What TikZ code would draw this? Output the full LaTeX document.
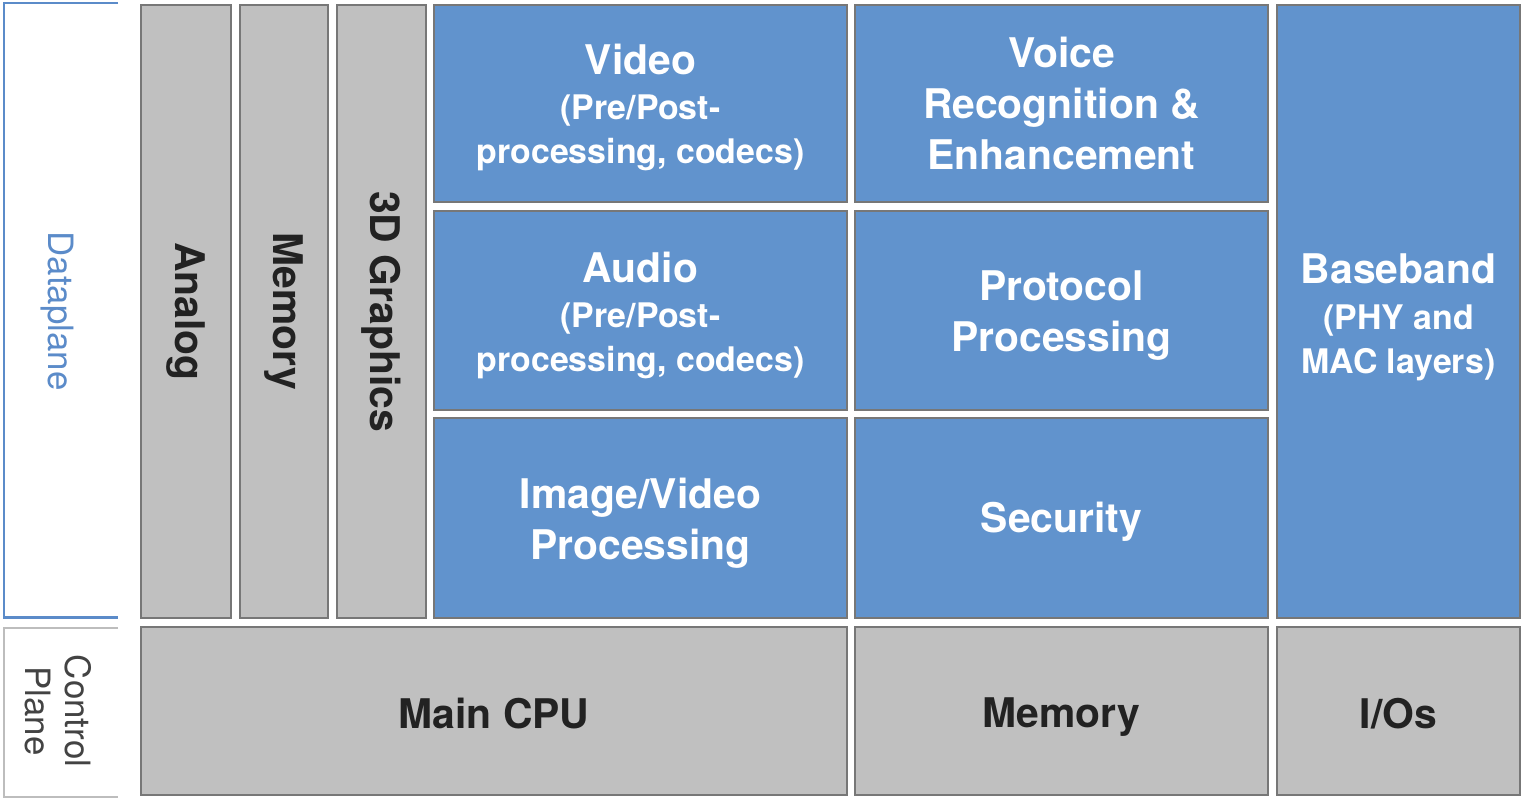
\documentclass[tikz,border=0pt]{standalone}
\usepackage{fontspec}
\setmainfont{TeX Gyre Heros}
\definecolor{blk}{HTML}{6193CD}
\definecolor{gry}{HTML}{C0C0C0}
\definecolor{edg}{HTML}{777777}
\definecolor{dtxt}{HTML}{222222}
\definecolor{dpline}{HTML}{5B8BC9}
\definecolor{cpline}{HTML}{BDBDBD}
\newcommand\ttl{\fontsize{41}{48}\selectfont}
\newcommand\subt{\fontsize{34}{48}\selectfont}
% \mkblk{name}{x1}{y1}{x2}{y2}{style}{text shift}{text}
\newcommand\mkblk[8]{%
  \pgfmathsetmacro\bw{#4-#2}\pgfmathsetmacro\bh{#5-#3}%
  \pgfmathsetmacro\bx{(#2+#4)/2}\pgfmathsetmacro\by{(#3+#5)/2}%
  \pgfmathsetmacro\ty{(#3+#5)/2+#7}%
  \node[#6, minimum width=\bw bp, minimum height=\bh bp] (#1) at (\bx,\by) {};
  \node[#6txt] (#1t) at (\bx,\ty) {#8};}
\begin{document}
\begin{tikzpicture}[x=1bp,y=-1bp,
  base/.style={draw=edg, line width=2.5bp, inner sep=0pt},
  bluebox/.style={base, fill=blk},
  graybox/.style={base, fill=gry},
  basetxt/.style={inner sep=0pt, align=center, font=\bfseries\ttl},
  blueboxtxt/.style={basetxt, text=white},
  grayboxtxt/.style={basetxt, text=dtxt}]
\useasboundingbox (0,0) rectangle (1522,800);
% brackets
\coordinate (dpa) at (118,3);
\coordinate (dpb) at (4,3);
\coordinate (dpc) at (4,617.5);
\coordinate (dpd) at (118,617.5);
\draw[dpline, line width=2.5bp] (dpa) -- (dpb) -- (dpc) -- (dpd);
\coordinate (cpa) at (118,628);
\coordinate (cpb) at (4,628);
\coordinate (cpc) at (4,797);
\coordinate (cpd) at (118,797);
\draw[cpline, line width=2.5bp] (cpa) -- (cpb) -- (cpc) -- (cpd);
\node[rotate=-90, text=dpline, font=\fontsize{35}{40}\selectfont] (dplabel) at (57,311) {Dataplane};
\node[rotate=-90, text=dtxt!85!white, font=\fontsize{35}{40}\selectfont, align=center] (cplabel) at (58,711) {Control\\Plane};
% vertical gray blocks
\node[graybox, minimum width=90bp, minimum height=613bp] (analog) at (186,311.5) {};
\node[grayboxtxt, rotate=-90] (analogt) at (analog.center) {Analog};
\node[graybox, minimum width=88bp, minimum height=613bp] (memv) at (284,311.5) {};
\node[grayboxtxt, rotate=-90] (memvt) at (memv.center) {Memory};
\node[graybox, minimum width=89bp, minimum height=613bp] (gfx) at (381.5,311.5) {};
\node[grayboxtxt, rotate=-90] (gfxt) at (gfx.center) {3D Graphics};
% blue blocks
\mkblk{video}{434}{5}{847}{202}{bluebox}{4}{{\ttl Video}\\[-3bp]{\subt (Pre/Post-}\\[-3bp]{\subt processing, codecs)}}
\mkblk{audio}{434}{211}{847}{410}{bluebox}{5}{{\ttl Audio}\\[-3bp]{\subt (Pre/Post-}\\[-3bp]{\subt processing, codecs)}}
\mkblk{imgvid}{434}{418}{847}{618}{bluebox}{5}{Image/Video\\[3bp]Processing}
\mkblk{voice}{855}{5}{1268}{202}{bluebox}{0}{Voice\\[3bp]Recognition \&\\[3bp]Enhancement}
\mkblk{proto}{855}{211}{1268}{410}{bluebox}{5}{Protocol\\[3bp]Processing}
\mkblk{secur}{855}{418}{1268}{618}{bluebox}{4}{Security}
\mkblk{baseb}{1277}{5}{1520}{618}{bluebox}{6}{{\ttl Baseband}\\[-2bp]{\subt (PHY and}\\[-4bp]{\subt MAC layers)}}
% control plane blocks
\mkblk{cpu}{141}{627}{847}{795}{graybox}{3}{Main CPU}
\mkblk{memh}{855}{627}{1268}{795}{graybox}{6}{Memory}
\mkblk{ios}{1277}{627}{1520}{795}{graybox}{3}{I/Os}
\end{tikzpicture}
\end{document}
